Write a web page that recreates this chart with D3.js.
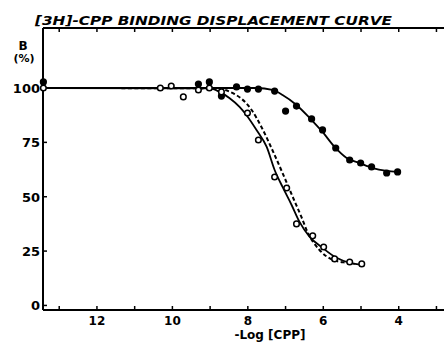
<!DOCTYPE html>
<html>
<head>
<meta charset="utf-8">
<script src="https://cdn.jsdelivr.net/npm/d3@7"></script>
<style>
  html, body { margin: 0; padding: 0; background: #fff; }
  svg { display: block; }
  text { font-family: "DejaVu Sans", sans-serif; font-weight: bold; fill: #000; }
</style>
</head>
<body>
<svg id="chart" width="444" height="345"></svg>
<script>
// ---- data ----
const title = "[3H]-CPP BINDING DISPLACEMENT CURVE";
const xLabel = "-Log [CPP]";
const yLabelTop = "B";
const yLabelBottom = "(%)";
const xTickLabels = [12, 10, 8, 6, 4];
const xMinorTicks = [13, 12, 11, 10, 9, 8, 7, 6, 5, 4, 3];
const yTickLabels = [0, 25, 50, 75, 100];

// open circles (steep displacement)
const openX = [13.42, 10.32, 10.03, 9.71, 9.31, 9.02, 8.70, 8.01, 7.72, 7.29, 6.97, 6.71, 6.28, 5.99, 5.70, 5.30, 4.98];
const openB = [100, 100, 100.9, 95.9, 99.1, 100, 98.2, 88.5, 76.1, 59.1, 54.0, 37.5, 32.0, 26.9, 21.4, 20.0, 19.1];

// filled circles (shallow displacement)
const filledX = [13.42, 9.31, 9.02, 8.70, 8.30, 8.01, 7.72, 7.29, 7.00, 6.71, 6.31, 6.02, 5.67, 5.30, 5.01, 4.72, 4.32, 4.03];
const filledB = [102.8, 101.8, 102.8, 96.3, 100.5, 99.5, 99.5, 98.6, 89.4, 91.7, 85.8, 80.7, 72.4, 66.9, 65.5, 63.7, 60.9, 61.4];

// fitted curves
const openCurveX = [13.42, 9.0, 8.75, 8.49, 8.22, 8.04, 7.77, 7.50, 7.29, 7.08, 6.84, 6.63, 6.36, 6.02, 5.65, 5.30, 4.96];
const openCurveB = [100, 99.8, 98.2, 95.4, 91.3, 87.6, 80.7, 72.9, 62.3, 54.5, 46.2, 38.4, 31.5, 26.5, 21.9, 19.6, 18.7];

const dashCurveX = [13.42, 8.88, 8.35, 7.90, 7.64, 7.35, 7.08, 6.81, 6.58, 6.42, 6.10, 5.75, 5.38, 5.17];
const dashCurveB = [100, 99.8, 97.2, 89.9, 82.1, 71.5, 60.9, 49.9, 40.7, 33.8, 25.5, 21.0, 19.6, 19.1];

const filledCurveX = [13.42, 7.9, 7.77, 7.35, 7.08, 6.71, 6.36, 6.02, 5.70, 5.38, 5.04, 4.69, 4.32, 4.03];
const filledCurveB = [100, 100, 100, 99.1, 96.8, 92.2, 86.2, 79.8, 72.9, 67.8, 65.5, 63.2, 61.9, 61.4];

// ---- drawing ----
const svg = d3.select("#chart");
const x = d3.scaleLinear().domain([13.43, 2.8]).range([43, 444]);
const y = d3.scaleLinear().domain([-2.1, 127.6]).range([310, 28]);

const zip = (a, b) => a.map((v, i) => [v, b[i]]);

// title
svg.append("text")
  .attr("x", 35).attr("y", 25)
  .attr("font-size", 13)
  .attr("font-style", "italic")
  .attr("textLength", 357)
  .attr("lengthAdjust", "spacingAndGlyphs")
  .text(title);

// axes lines
const axisG = svg.append("g").attr("stroke", "#000").attr("stroke-width", 2).attr("fill", "none");
axisG.append("line").attr("x1", x.range()[0]).attr("x2", x.range()[1]).attr("y1", y.range()[0]).attr("y2", y.range()[0]);
axisG.append("line").attr("x1", x.range()[0]).attr("x2", x.range()[1]).attr("y1", y.range()[1]).attr("y2", y.range()[1]);
axisG.append("line").attr("x1", x.range()[0]).attr("x2", x.range()[0]).attr("y1", y.range()[0]).attr("y2", y.range()[1]);

// bottom & top ticks (inside)
const tickG = svg.append("g").attr("stroke", "#000").attr("stroke-width", 1.5);
xMinorTicks.forEach(t => {
  tickG.append("line").attr("x1", x(t)).attr("x2", x(t)).attr("y1", y.range()[0]).attr("y2", y.range()[0] - 4);
  tickG.append("line").attr("x1", x(t)).attr("x2", x(t)).attr("y1", y.range()[1]).attr("y2", y.range()[1] + 4);
});
yTickLabels.forEach(t => {
  tickG.append("line").attr("x1", x.range()[0]).attr("x2", x.range()[0] + 4).attr("y1", y(t)).attr("y2", y(t));
});

// tick labels
svg.append("g").selectAll("text").data(xTickLabels).join("text")
  .attr("x", d => x(d)).attr("y", 325)
  .attr("text-anchor", "middle").attr("font-size", 12)
  .text(d => d);
svg.append("g").selectAll("text").data(yTickLabels).join("text")
  .attr("x", 40).attr("y", d => y(d) + 5)
  .attr("text-anchor", "end").attr("font-size", 13)
  .text(d => d);

// axis labels
svg.append("text").attr("x", 270).attr("y", 339).attr("text-anchor", "middle").attr("font-size", 12).text(xLabel);
svg.append("text").attr("x", 23).attr("y", 50).attr("text-anchor", "middle").attr("font-size", 12).text(yLabelTop);
svg.append("text").attr("x", 24).attr("y", 62).attr("text-anchor", "middle").attr("font-size", 11).text(yLabelBottom);

// curves
const line = d3.line().x(d => x(d[0])).y(d => y(d[1])).curve(d3.curveMonotoneX);
svg.append("path").datum(zip(openCurveX, openCurveB)).attr("d", line)
  .attr("fill", "none").attr("stroke", "#000").attr("stroke-width", 1.8);
svg.append("path").datum(zip(dashCurveX, dashCurveB)).attr("d", line)
  .attr("fill", "none").attr("stroke", "#000").attr("stroke-width", 2).attr("stroke-dasharray", "4,2.5");
svg.append("path").datum(zip(filledCurveX, filledCurveB)).attr("d", line)
  .attr("fill", "none").attr("stroke", "#000").attr("stroke-width", 1.8);

// markers
svg.append("g").selectAll("circle").data(zip(filledX, filledB)).join("circle")
  .attr("cx", d => x(d[0])).attr("cy", d => y(d[1])).attr("r", 3.6)
  .attr("fill", "#000");
svg.append("g").selectAll("circle").data(zip(openX, openB)).join("circle")
  .attr("cx", d => x(d[0])).attr("cy", d => y(d[1])).attr("r", 2.8)
  .attr("fill", "#fff").attr("stroke", "#000").attr("stroke-width", 1.5);
</script>
</body>
</html>
